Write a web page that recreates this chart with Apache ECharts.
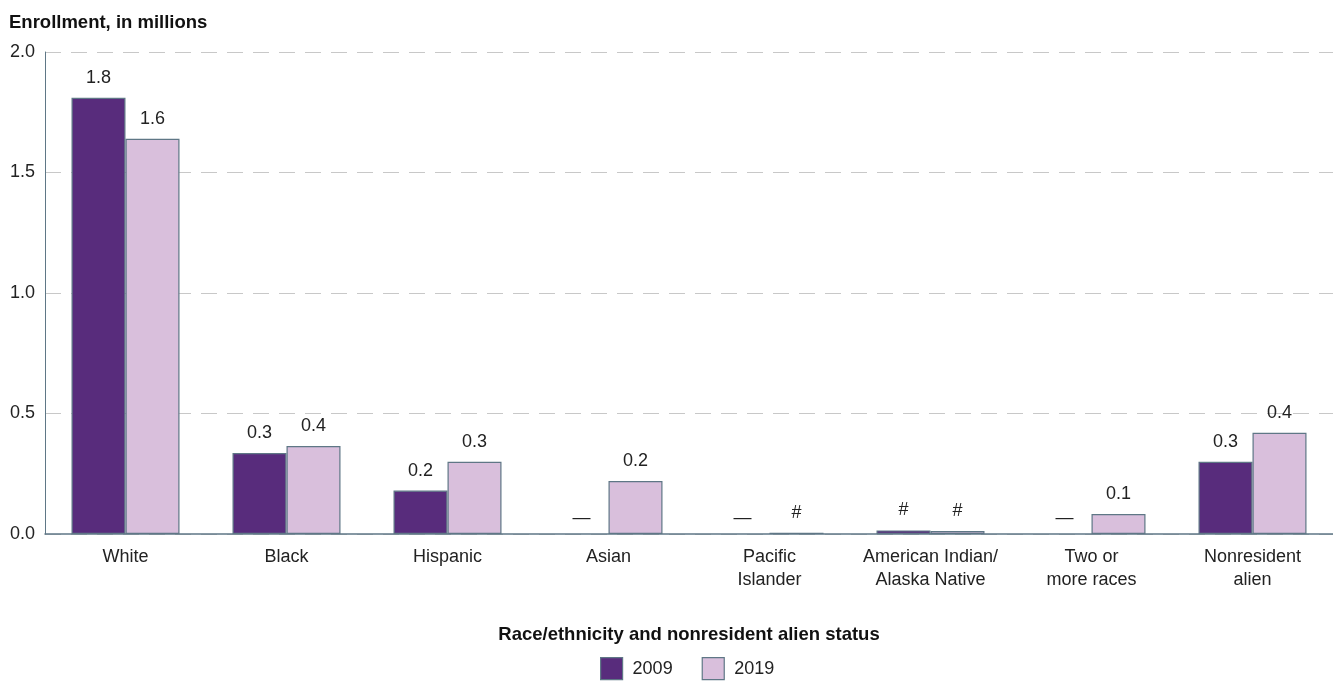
<!DOCTYPE html>
<html><head><meta charset="utf-8">
<script src="https://cdn.jsdelivr.net/npm/echarts@6/dist/echarts.min.js"></script>
<style>html,body{margin:0;padding:0;background:#fff}#c{width:1333px;height:687px}</style>
</head><body><div id="c"></div>
<script>
const categories = ['White','Black','Hispanic','Asian','Pacific\nIslander','American Indian/\nAlaska Native','Two or\nmore races','Nonresident\nalien'];
const values2009 = [1.81, 0.336, 0.18, null, null, 0.015, null, 0.30];
const values2019 = [1.64, 0.365, 0.30, 0.22, 0.005, 0.012, 0.083, 0.42];
const labels2009 = ['1.8','0.3','0.2','—','—','#','—','0.3'];
const labels2019 = ['1.6','0.4','0.3','0.2','#','#','0.1','0.4'];
const yTicks = ['0.0','0.5','1.0','1.5','2.0'];

const FONT = '"Liberation Sans", Arial, sans-serif';
const BORDER = '#5f7786';
function mk(vals, labs){
  return vals.map((v,i)=> v===null
    ? {value:0, itemStyle:{color:'transparent',borderWidth:0}, label:{formatter:labs[i], offset:[0,4]}}
    : {value:v, label:{formatter:labs[i]}});
}
const chart = echarts.init(document.getElementById('c'), null, {renderer:'canvas'});
chart.setOption({
  animation:false,
  textStyle:{fontFamily:FONT},
  title:{text:'Enrollment, in millions', left:4, top:8,
    textStyle:{fontFamily:FONT, fontSize:18.5, fontWeight:'bold', color:'#111'}},
  grid:{left:45, right:0, top:52, bottom:153, containLabel:false},
  legend:{top:652, left:595, itemWidth:22, itemHeight:22, itemGap:29, icon:'rect',
    itemStyle:{borderColor:BORDER, borderWidth:1.2},
    textStyle:{fontFamily:FONT, fontSize:18, color:'#222', padding:[0,0,0,5]},
    data:['2009','2019']},
  xAxis:{type:'category', data:categories,
    name:'Race/ethnicity and nonresident alien status', nameLocation:'middle', nameGap:91,
    nameTextStyle:{fontFamily:FONT, fontSize:18.5, fontWeight:'bold', color:'#111'},
    axisLine:{lineStyle:{color:BORDER, width:1.5}},
    axisTick:{show:false},
    axisLabel:{fontFamily:FONT, fontSize:18, color:'#222', lineHeight:23, margin:12, interval:0}},
  yAxis:{type:'value', min:0, max:2, interval:0.5,
    axisLine:{show:true, lineStyle:{color:BORDER, width:1}},
    axisTick:{show:false},
    axisLabel:{fontFamily:FONT, fontSize:18, color:'#222', margin:10,
      formatter:(v)=>yTicks[Math.round(v/0.5)]},
    splitLine:{lineStyle:{color:'#c8c8c8', type:[16,10], width:1}}},
  series:[
    {name:'2009', type:'bar', data:mk(values2009, labels2009), barWidth:54, barGap:'0%',
      itemStyle:{color:'#582c7c', borderColor:BORDER, borderWidth:1.2},
      label:{show:true, position:'top', distance:11, fontFamily:FONT, fontSize:18, color:'#222'}},
    {name:'2019', type:'bar', data:mk(values2019, labels2019), barWidth:54, barGap:'0%',
      itemStyle:{color:'#d9bfdc', borderColor:BORDER, borderWidth:1.2},
      label:{show:true, position:'top', distance:11, fontFamily:FONT, fontSize:18, color:'#222'}}
  ]
});
</script></body></html>
